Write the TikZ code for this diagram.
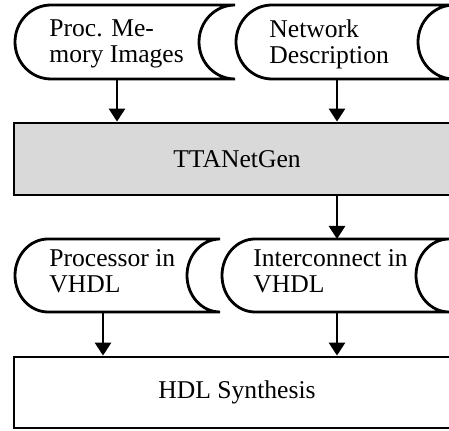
\documentclass[tikz,border=0pt]{standalone}
\usepackage{fontspec}
\setmainfont{Liberation Serif}
\usetikzlibrary{arrows.meta}

\begin{document}
\begin{tikzpicture}[
  x=0.5pt, y=-0.5pt,
  >={Triangle[length=6.5pt, width=8pt]},
  every node/.style={text=black, font=\fontsize{12.8}{13}\selectfont},
  outline/.style={draw=black, line width=1.4pt},
  flow/.style={->, draw=black, line width=1.4pt},
  datatext/.style={align=left, anchor=west, inner sep=0pt},
  toolbox/.style={draw=black, line width=1.4pt, inner sep=0pt},
]

% Page area
\useasboundingbox (0,0) rectangle (449,431);

% --- Inputs: stored data ---
\draw[outline] (51,5) -- (235,5)
  arc[start angle=270, end angle=90, x radius=36, y radius=37] -- (51,79)
  arc[start angle=90, end angle=270, x radius=36, y radius=37] -- cycle;
\node[datatext] (memimg) at (49,44) {Proc. Me-\\mory Images};

\draw[outline] (272,5) -- (454,5)
  arc[start angle=270, end angle=90, x radius=36, y radius=37] -- (272,79)
  arc[start angle=90, end angle=270, x radius=36, y radius=37] -- cycle;
\node[datatext] (netdesc) at (269,44) {Network\\Description};

% Generator
\node[toolbox, fill=black!15, minimum width=223pt, minimum height=36pt] (gen) at (237,159) {TTANetGen};

% --- Outputs: stored data ---
\draw[outline] (48,239) -- (220,239)
  arc[start angle=270, end angle=90, x radius=33, y radius=36.5] -- (48,312)
  arc[start angle=90, end angle=270, x radius=33, y radius=36.5] -- cycle;
\node[datatext] (procvhdl) at (49,271.5) {Processor in\\VHDL};

\draw[outline] (255,239) -- (449,239)
  arc[start angle=270, end angle=90, x radius=33, y radius=36.5] -- (255,312)
  arc[start angle=90, end angle=270, x radius=33, y radius=36.5] -- cycle;
\node[datatext] (icvhdl) at (253,271.5) {Interconnect in\\VHDL};

% Synthesis
\node[toolbox, minimum width=223pt, minimum height=35.5pt] (synth) at (237,392.5) {HDL Synthesis};

% Connection points on the data shapes
\coordinate (mem-out) at (117,79);
\coordinate (net-out) at (337,79);
\coordinate (ic-in) at (337,239);
\coordinate (proc-out) at (103,312);
\coordinate (ic-out) at (337,312);

% Arrows
\draw[flow] (mem-out) -- (mem-out |- gen.north);
\draw[flow] (net-out) -- (net-out |- gen.north);
\draw[flow] (gen.south -| ic-in) -- (ic-in);
\draw[flow] (proc-out) -- (proc-out |- synth.north);
\draw[flow] (ic-out) -- (ic-out |- synth.north);

\end{tikzpicture}
\end{document}
